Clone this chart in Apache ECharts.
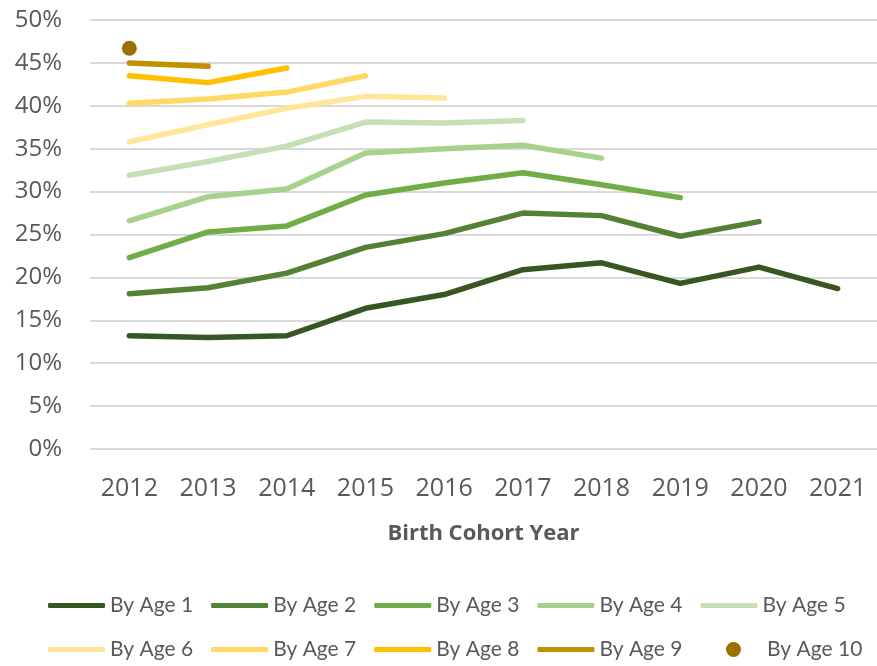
<!DOCTYPE html>
<html>
<head>
<meta charset="utf-8">
<script src="https://cdn.jsdelivr.net/npm/echarts@6/dist/echarts.min.js"></script>
<style>
  html, body { margin: 0; padding: 0; background: #fff; }
  #chart { width: 877px; height: 666px; }
</style>
</head>
<body>
<div id="chart"></div>
<script>
var years = ['2012', '2013', '2014', '2015', '2016', '2017', '2018', '2019', '2020', '2021'];

// percent of cohort
var byAge1 = [13.2, 13.0, 13.2, 16.4, 18.0, 20.9, 21.7, 19.3, 21.2, 18.7];
var byAge2 = [18.1, 18.8, 20.5, 23.5, 25.1, 27.5, 27.2, 24.8, 26.5];
var byAge3 = [22.3, 25.3, 26.0, 29.6, 31.0, 32.2, 30.8, 29.3];
var byAge4 = [26.6, 29.4, 30.3, 34.5, 35.0, 35.4, 33.9];
var byAge5 = [31.9, 33.5, 35.3, 38.1, 38.0, 38.3];
var byAge6 = [35.8, 37.8, 39.7, 41.1, 40.9];
var byAge7 = [40.3, 40.8, 41.6, 43.5];
var byAge8 = [43.5, 42.7, 44.4];
var byAge9 = [45.0, 44.6];
var byAge10 = [46.7];

var names = ['By Age 1', 'By Age 2', 'By Age 3', 'By Age 4', 'By Age 5',
             'By Age 6', 'By Age 7', 'By Age 8', 'By Age 9', 'By Age 10'];
var lineData = [byAge1, byAge2, byAge3, byAge4, byAge5, byAge6, byAge7, byAge8, byAge9];
var colors = ['#375623', '#548235', '#70AD47', '#A9D18E', '#C5E0B4',
              '#FFE699', '#FFD966', '#FFC000', '#BF9000', '#9A7000'];

var series = [];
for (var i = 0; i < lineData.length; i++) {
    series.push({
        name: names[i],
        type: 'line',
        data: lineData[i],
        symbol: 'none',
        lineStyle: { width: 5.5, color: colors[i], cap: 'round', join: 'round' },
        itemStyle: { color: colors[i] }
    });
}
series.push({
    name: names[9],
    type: 'scatter',
    data: byAge10,
    symbol: 'circle',
    symbolSize: 15,
    itemStyle: { color: colors[9], opacity: 1 }
});

var legendText = { fontFamily: 'Lato', fontSize: 21, color: '#595959' };

function lineLegend(list, top) {
    return {
        data: list.map(function (n) { return { name: n, icon: 'roundRect' }; }),
        left: 43,
        top: top,
        itemWidth: 57,
        itemHeight: 5,
        itemGap: 18,
        textStyle: legendText
    };
}

var chart = echarts.init(document.getElementById('chart'));
var option = {
    animation: false,
    grid: { left: 90, right: -5, top: 20, bottom: 217 },
    xAxis: {
        type: 'category',
        data: years,
        boundaryGap: true,
        axisLine: { show: false },
        axisTick: { show: false },
        axisLabel: { color: '#595959', fontFamily: 'Open Sans', fontSize: 25, margin: 27 },
        name: 'Birth Cohort Year',
        nameLocation: 'middle',
        nameGap: 74,
        nameTextStyle: { color: '#595959', fontFamily: 'Open Sans', fontSize: 22, fontWeight: 'bold' }
    },
    yAxis: {
        type: 'value',
        min: 0,
        max: 50,
        interval: 5,
        axisLine: { show: false },
        axisTick: { show: false },
        axisLabel: { color: '#595959', fontFamily: 'Open Sans', fontSize: 24, margin: 28, formatter: '{value}%' },
        splitLine: { lineStyle: { color: '#d9d9d9', width: 2 } }
    },
    legend: [
        lineLegend(names.slice(0, 5), 590),
        lineLegend(names.slice(5, 9), 634),
        {
            data: [{ name: names[9], icon: 'circle' }],
            left: 721,
            top: 634,
            itemWidth: 57,
            itemHeight: 15,
            textStyle: legendText
        }
    ],
    series: series
};
chart.setOption(option);
</script>
</body>
</html>
